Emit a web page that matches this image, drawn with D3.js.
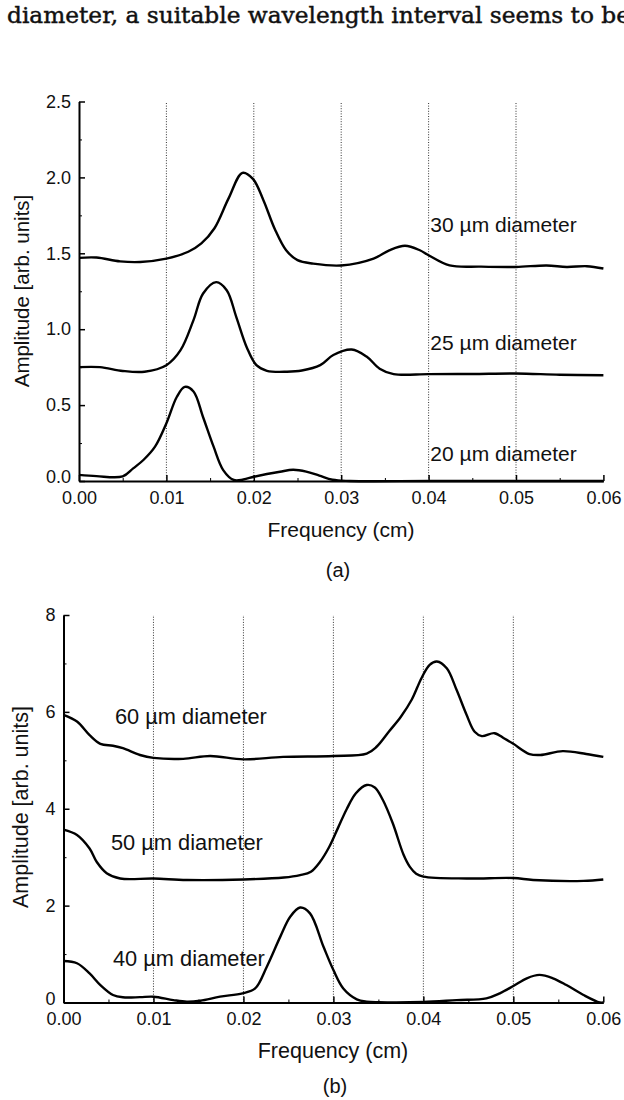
<!DOCTYPE html>
<html>
<head>
<meta charset="utf-8">
<script src="https://cdn.jsdelivr.net/npm/d3@7"></script>
<style>
  html, body { margin: 0; padding: 0; background: #fff; }
  svg { display: block; }
  .tick text { font-family: "Liberation Sans", Arial, sans-serif; }
</style>
</head>
<body>
<svg id="fig" width="624" height="1100"></svg>
<script>
// Frequency-domain amplitude spectra, [frequency (cm), amplitude] pairs
const dia30 = [[0,1.47],[0.002,1.472],[0.0047,1.447],[0.007,1.443],[0.01,1.465],[0.0125,1.51],[0.014,1.565],[0.0155,1.665],[0.0171,1.86],[0.0187,2.03],[0.0199,1.99],[0.0211,1.85],[0.0224,1.66],[0.0237,1.52],[0.025,1.455],[0.0268,1.432],[0.030,1.42],[0.0337,1.465],[0.0355,1.52],[0.0373,1.55],[0.039,1.52],[0.040,1.487],[0.0424,1.42],[0.046,1.412],[0.050,1.41],[0.0535,1.42],[0.0558,1.41],[0.0581,1.415],[0.06,1.40]];
const dia25 = [[0,0.75],[0.0024,0.75],[0.005,0.725],[0.0075,0.72],[0.01,0.763],[0.0116,0.86],[0.0131,1.06],[0.0142,1.235],[0.0157,1.31],[0.0169,1.257],[0.018,1.08],[0.0192,0.88],[0.0203,0.763],[0.0215,0.726],[0.0238,0.72],[0.0255,0.728],[0.0276,0.763],[0.0291,0.83],[0.0312,0.866],[0.0329,0.82],[0.0344,0.74],[0.036,0.704],[0.040,0.704],[0.045,0.705],[0.050,0.708],[0.055,0.70],[0.06,0.697]];
const dia20 = [[0,0.04],[0.002,0.032],[0.005,0.03],[0.0062,0.083],[0.0074,0.14],[0.0087,0.226],[0.01,0.38],[0.0112,0.555],[0.0121,0.62],[0.0131,0.59],[0.0142,0.42],[0.0154,0.226],[0.0165,0.072],[0.0177,0.007],[0.0188,0.01],[0.02,0.028],[0.0215,0.046],[0.023,0.061],[0.0245,0.074],[0.026,0.062],[0.0275,0.035],[0.029,0.008],[0.031,0],[0.04,0],[0.05,0],[0.06,0]];

const dia60 = [[0,5.94],[0.0015,5.80],[0.0029,5.52],[0.0041,5.34],[0.0055,5.30],[0.0066,5.25],[0.0085,5.11],[0.01,5.05],[0.0133,5.03],[0.0163,5.09],[0.02,5.02],[0.0244,5.07],[0.03,5.09],[0.0337,5.14],[0.0348,5.28],[0.0362,5.60],[0.0375,5.90],[0.0387,6.25],[0.0398,6.70],[0.0407,6.97],[0.0415,7.04],[0.0426,6.90],[0.0437,6.45],[0.0448,5.94],[0.0457,5.59],[0.0465,5.50],[0.0479,5.56],[0.049,5.45],[0.050,5.34],[0.0518,5.13],[0.053,5.11],[0.0555,5.19],[0.0581,5.13],[0.06,5.07]];
const dia50 = [[0,3.57],[0.0015,3.46],[0.0029,3.18],[0.0037,2.90],[0.0048,2.67],[0.0063,2.56],[0.01,2.56],[0.0137,2.53],[0.02,2.54],[0.0245,2.58],[0.0263,2.63],[0.0275,2.70],[0.0285,2.90],[0.0295,3.20],[0.0305,3.60],[0.0315,4.00],[0.0325,4.32],[0.0337,4.49],[0.0346,4.44],[0.0355,4.18],[0.0366,3.70],[0.0378,3.05],[0.0385,2.80],[0.0392,2.66],[0.040,2.60],[0.0448,2.56],[0.050,2.57],[0.0522,2.53],[0.0578,2.51],[0.06,2.54]];
const dia40 = [[0,0.857],[0.0015,0.81],[0.0029,0.60],[0.0041,0.36],[0.0055,0.155],[0.0066,0.107],[0.0085,0.11],[0.01,0.12],[0.0122,0.05],[0.0137,0.017],[0.0152,0.037],[0.0174,0.12],[0.0199,0.19],[0.0213,0.29],[0.0226,0.74],[0.0241,1.36],[0.0252,1.77],[0.0263,1.96],[0.0274,1.84],[0.0289,1.15],[0.030,0.67],[0.0311,0.29],[0.0326,0.066],[0.0337,0.017],[0.035,0.005],[0.04,0.01],[0.0437,0.05],[0.047,0.086],[0.0485,0.19],[0.05,0.34],[0.0515,0.50],[0.0529,0.57],[0.0544,0.50],[0.0559,0.36],[0.0578,0.155],[0.0596,0.0],[0.06,0]];

// Tick values
const xTicks = [0, 0.01, 0.02, 0.03, 0.04, 0.05, 0.06];
const xMinorTicks = [0.005, 0.015, 0.025, 0.035, 0.045, 0.055];
const gridTicks = [0.01, 0.02, 0.03, 0.04, 0.05];
const yTicksA = [0, 0.5, 1.0, 1.5, 2.0, 2.5];
const yMinorA = [0.25, 0.75, 1.25, 1.75, 2.25];
const yTicksB = [0, 2, 4, 6, 8];
const yMinorB = [1, 3, 5, 7];

// Curve labels
const labelsA = ["30 µm diameter", "25 µm diameter", "20 µm diameter"];
const labelsB = ["60 µm diameter", "50 µm diameter", "40 µm diameter"];

const svg = d3.select("#fig");
const SANS = '"Liberation Sans", Arial, Helvetica, sans-serif';

// Running text line above the figure
svg.append("text")
  .attr("x", 7).attr("y", 23)
  .attr("font-family", '"DejaVu Serif", "Liberation Serif", serif')
  .attr("font-size", 23)
  .attr("textLength", 623)
  .attr("lengthAdjust", "spacingAndGlyphs")
  .attr("fill", "#111").attr("stroke", "#111").attr("stroke-width", 0.45)
  .text("diameter, a suitable wavelength interval seems to be");

function panel(cfg) {
  const { x, y, series, labels, labelPos, yTicks, yMinor, yFmt, labelSize, ytitle, xtitle, caption } = cfg;
  const g = svg.append("g");
  const [y0, y1] = y.range();

  // dotted vertical grid
  g.append("g").selectAll("line").data(gridTicks).join("line")
    .attr("x1", d => x(d)).attr("x2", d => x(d))
    .attr("y1", y0).attr("y2", y1)
    .attr("stroke", "#333").attr("stroke-width", 1)
    .attr("stroke-dasharray", "1,1.6");

  // minor ticks (inward)
  g.append("g").attr("transform", `translate(0,${y0})`)
    .call(d3.axisBottom(x).tickValues(xMinorTicks).tickSize(-3).tickFormat(""))
    .call(s => s.select(".domain").remove());
  g.append("g").attr("transform", `translate(${x.range()[0]},0)`)
    .call(d3.axisLeft(y).tickValues(yMinor).tickSize(-3).tickFormat(""))
    .call(s => s.select(".domain").remove());

  // main axes
  const ax = g.append("g").attr("transform", `translate(0,${y0})`)
    .call(d3.axisBottom(x).tickValues(xTicks).tickSize(-6).tickSizeOuter(0)
      .tickPadding(10).tickFormat(d3.format(".2f")));
  const ay = g.append("g").attr("transform", `translate(${x.range()[0]},0)`)
    .call(d3.axisLeft(y).tickValues(yTicks).tickSize(-6).tickSizeOuter(0)
      .tickPadding(8).tickFormat(yFmt));
  [ax, ay].forEach(a => {
    a.selectAll(".domain").attr("stroke", "#000").attr("stroke-width", 2);
    a.selectAll(".tick line").attr("stroke", "#000").attr("stroke-width", 1.5);
    a.selectAll(".tick text").attr("font-size", 18).attr("fill", "#111");
  });
  // keep the zero label on the value axis clear of the frequency labels
  ay.selectAll(".tick text").filter(d => d === 0).attr("dy", "0.1em");
  g.selectAll(".tick line").attr("stroke", "#000");

  // spectra
  const line = d3.line().x(d => x(d[0])).y(d => y(d[1]))
    .curve(d3.curveCatmullRom.alpha(0.5));
  g.append("g").selectAll("path").data(series).join("path")
    .attr("d", line).attr("fill", "none")
    .attr("stroke", "#000").attr("stroke-width", 2.4)
    .attr("stroke-linejoin", "round");

  // curve labels
  g.append("g").selectAll("text").data(labels).join("text")
    .attr("x", (d, i) => x(labelPos[i][0]))
    .attr("y", (d, i) => y(labelPos[i][1]))
    .attr("font-family", SANS).attr("font-size", labelSize).attr("fill", "#111")
    .text(d => d);

  // axis titles and caption
  g.append("text")
    .attr("transform", `translate(${ytitle.x},${ytitle.y}) rotate(-90)`)
    .attr("text-anchor", "middle")
    .attr("font-family", SANS).attr("font-size", ytitle.size).attr("fill", "#111")
    .text("Amplitude [arb. units]");
  g.append("text")
    .attr("x", xtitle.x).attr("y", xtitle.y)
    .attr("text-anchor", "middle")
    .attr("font-family", SANS).attr("font-size", xtitle.size).attr("fill", "#111")
    .text("Frequency (cm)");
  g.append("text")
    .attr("x", caption.x).attr("y", caption.y)
    .attr("text-anchor", "middle")
    .attr("font-family", SANS).attr("font-size", 20).attr("fill", "#111")
    .text(caption.text);
}

// Panel (a)
const xA = d3.scaleLinear().domain([0, 0.06]).range([79, 603.4]);
const yA = d3.scaleLinear().domain([0, 2.5]).range([481, 101.5]);
panel({
  x: xA, y: yA,
  series: [dia30, dia25, dia20],
  labels: labelsA,
  labelPos: [[0.0402, 1.64], [0.0402, 0.862], [0.0402, 0.134]],
  yTicks: yTicksA, yMinor: yMinorA, yFmt: d3.format(".1f"),
  labelSize: 21,
  ytitle: { x: 29, y: 291, size: 20.5 },
  xtitle: { x: 341, y: 537, size: 21 },
  caption: { x: 338, y: 577, text: "(a)" }
});

// Panel (b)
const xB = d3.scaleLinear().domain([0, 0.06]).range([63.5, 603.3]);
const yB = d3.scaleLinear().domain([0, 8]).range([1002.5, 615]);
panel({
  x: xB, y: yB,
  series: [dia60, dia50, dia40],
  labels: labelsB,
  labelPos: [[0.00572, 5.75], [0.00528, 3.15], [0.0055, 0.75]],
  yTicks: yTicksB, yMinor: yMinorB, yFmt: d3.format("d"),
  labelSize: 21.8,
  ytitle: { x: 28, y: 807, size: 21.5 },
  xtitle: { x: 333, y: 1058, size: 21.5 },
  caption: { x: 335, y: 1093, text: "(b)" }
});
</script>
</body>
</html>
